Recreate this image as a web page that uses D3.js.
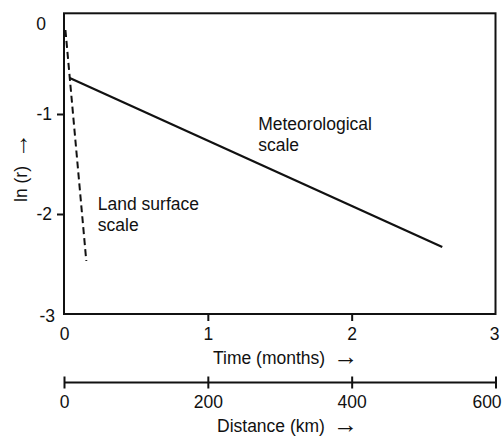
<!DOCTYPE html>
<html>
<head>
<meta charset="utf-8">
<script src="https://cdn.jsdelivr.net/npm/d3@7"></script>
<style>
  html, body { margin: 0; padding: 0; background: #fff; }
  svg { display: block; }
  text { font-family: "Liberation Sans", Arial, sans-serif; font-size: 17.5px; fill: #111; }
  .arrow { font-size: 25px; }
</style>
</head>
<body>
<svg id="chart" width="503" height="438"></svg>
<script>
// Correlation decay ln(r) against time lag (months) and distance (km)
const timeTicks = [0, 1, 2, 3];
const distanceTicks = [0, 200, 400, 600];
const lnrTicks = [0, -1, -2, -3];

// Each scale is a straight segment: [time, ln r]
const meteorological = [[0.04, -0.64], [2.63, -2.33]];
const landSurface = [[0.01, -0.16], [0.155, -2.47]];

const annotations = [
  { lines: ["Meteorological", "scale"], at: [1.35, -1.16] },
  { lines: ["Land surface", "scale"], at: [0.235, -1.96] }
];

const svg = d3.select("#chart");
const plotLeft = 64, plotRight = 495.5, plotTop = 14, plotBottom = 314;

const x = d3.scaleLinear().domain([0, 3]).range([plotLeft, plotRight]);
const xDist = d3.scaleLinear().domain([0, 600]).range([plotLeft, plotRight]);
const y = d3.scaleLinear().domain([-3, 0]).range([plotBottom, plotTop]);

// plot frame
svg.append("rect")
  .attr("x", plotLeft).attr("y", plotTop - 0.7)
  .attr("width", plotRight - plotLeft).attr("height", plotBottom - plotTop + 0.7)
  .attr("fill", "none").attr("stroke", "#111").attr("stroke-width", 2);

// y axis
const yAxis = svg.append("g")
  .attr("transform", `translate(${plotLeft},0)`)
  .call(d3.axisLeft(y).tickValues(lnrTicks).tickSize(7).tickPadding(5).tickFormat(d3.format("d")));
yAxis.select(".domain").remove();
yAxis.selectAll(".tick line").attr("stroke", "#111").attr("stroke-width", 2)
  .filter(d => d === 0 || d === -3).remove();
yAxis.selectAll(".tick text").attr("fill", "#111").text(d => d === 0 ? "0" : "-" + Math.abs(d));
yAxis.selectAll(".tick").filter(d => d === 0).select("text").attr("transform", "translate(-6,10)");
yAxis.selectAll(".tick").filter(d => d === -3).select("text").attr("transform", "translate(3,2)");
yAxis.attr("font-size", null).attr("font-family", null);

// time axis
const xAxis = svg.append("g")
  .attr("transform", `translate(0,${plotBottom})`)
  .call(d3.axisBottom(x).tickValues(timeTicks).tickSize(7).tickPadding(7).tickFormat(d3.format("d")));
xAxis.select(".domain").remove();
xAxis.selectAll(".tick line").attr("stroke", "#111").attr("stroke-width", 2)
  .filter(d => d === 0 || d === 3).remove();
xAxis.selectAll(".tick text").attr("fill", "#111");
xAxis.selectAll(".tick").filter(d => d === 3).select("text").attr("dx", -1.5);
xAxis.attr("font-size", null).attr("font-family", null);

// distance axis
const distY = 382.5;
const dAxis = svg.append("g")
  .attr("transform", `translate(0,${distY})`)
  .call(d3.axisBottom(xDist).tickValues(distanceTicks).tickSize(6).tickPadding(7).tickFormat(d3.format("d")));
dAxis.select(".domain").attr("stroke", "#111").attr("stroke-width", 2)
  .attr("d", `M${plotLeft},0H${plotRight}`);
dAxis.selectAll(".tick line").attr("stroke", "#111").attr("stroke-width", 2).attr("y1", -6);
dAxis.selectAll(".tick text").attr("fill", "#111");
dAxis.selectAll(".tick").filter(d => d === 600).select("text").attr("dx", -9);
dAxis.attr("font-size", null).attr("font-family", null);

// axis titles, each followed by a direction arrow
function title(sel, label) {
  sel.append("tspan").text(label);
  sel.append("tspan").attr("class", "arrow").attr("dx", 8).attr("dy", 1).text("\u2192");
  return sel;
}
title(svg.append("text").attr("x", 213).attr("y", 364), "Time (months)");
title(svg.append("text").attr("x", 217).attr("y", 432), "Distance (km)");
title(svg.append("text").attr("transform", "translate(27,202) rotate(-90)"), "ln (r)");

// decay lines
const line = d3.line().x(d => x(d[0])).y(d => y(d[1]));
svg.append("path").datum(meteorological).attr("d", line)
  .attr("fill", "none").attr("stroke", "#111").attr("stroke-width", 2.2);
svg.append("path").datum(landSurface).attr("d", line)
  .attr("fill", "none").attr("stroke", "#111").attr("stroke-width", 2)
  .attr("stroke-dasharray", "7,4");

// labels
annotations.forEach(a => {
  const t = svg.append("text").attr("x", x(a.at[0])).attr("y", y(a.at[1]));
  a.lines.forEach((s, i) => {
    t.append("tspan").attr("x", x(a.at[0])).attr("dy", i === 0 ? 0 : 20.5).text(s);
  });
});
</script>
</body>
</html>
